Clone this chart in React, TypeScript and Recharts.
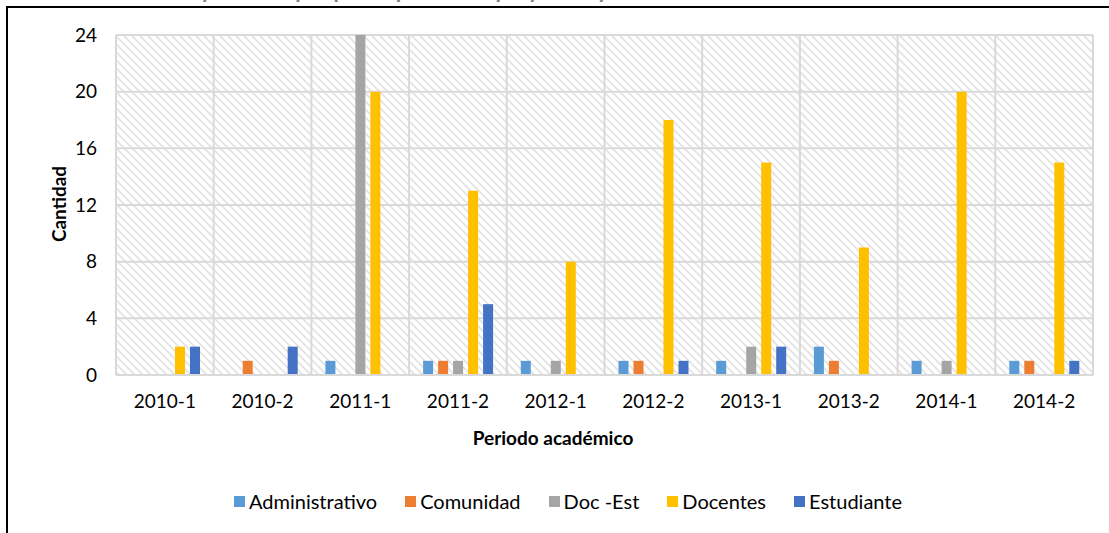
import { BarChart, Bar, XAxis, YAxis, CartesianGrid } from "recharts";

const periods = ["2010-1", "2010-2", "2011-1", "2011-2", "2012-1", "2012-2", "2013-1", "2013-2", "2014-1", "2014-2"];
const administrativo = [0, 0, 1, 1, 1, 1, 1, 2, 1, 1];
const comunidad = [0, 1, 0, 1, 0, 1, 0, 1, 0, 1];
const docEst = [0, 0, 24, 1, 1, 0, 2, 0, 1, 0];
const docentes = [2, 0, 20, 13, 8, 18, 15, 9, 20, 15];
const estudiante = [2, 2, 0, 5, 0, 1, 2, 0, 0, 1];
const yTicks = [0, 4, 8, 12, 16, 20, 24];

const series = [
  { key: "administrativo", name: "Administrativo", color: "#5B9BD5", values: administrativo },
  { key: "comunidad", name: "Comunidad", color: "#ED7D31", values: comunidad },
  { key: "docEst", name: "Doc -Est", color: "#A5A5A5", values: docEst },
  { key: "docentes", name: "Docentes", color: "#FFC000", values: docentes },
  { key: "estudiante", name: "Estudiante", color: "#4472C4", values: estudiante },
];

const data = periods.map((period, i) => {
  const row: Record<string, string | number> = { period };
  series.forEach((s) => {
    row[s.key] = s.values[i];
  });
  return row;
});

const font = "Lato, 'Open Sans', sans-serif";

// vertical grid lines sit on the category boundaries, not on the ticks
const boundaryLines = ({ offset }: any) => {
  const n = periods.length;
  return Array.from({ length: n + 1 }, (_, i) => offset.left + (i * offset.width) / n);
};

export default function App() {
  return (
    <div
      style={{
        position: "absolute",
        left: 0,
        top: 0,
        width: 1109,
        height: 533,
        overflow: "hidden",
        background: "#fff",
        fontFamily: font,
      }}
    >
      <svg width={0} height={0} style={{ position: "absolute" }}>
        <defs>
          <pattern id="hatch" patternUnits="userSpaceOnUse" width={8} height={8}>
            <rect width={8} height={8} fill="#fff" />
            <path d="M-2,6 L2,10 M0,0 L8,8 M6,-2 L10,2" stroke="#e2e2e2" strokeWidth={1.6} />
          </pattern>
        </defs>
      </svg>

      {/* title is clipped by the top edge, as in the original export */}
      <div
        style={{
          position: "absolute",
          top: -21,
          left: 0,
          width: 1109,
          textAlign: "center",
          fontSize: 22,
          lineHeight: "22px",
          fontWeight: 700,
          color: "#7f7f7f",
          whiteSpace: "nowrap",
        }}
      >
        Número de personas por participación en proyectos y resultados de extensión 2010-1 al 2014-2
      </div>

      <div
        style={{
          position: "absolute",
          left: 6,
          top: 6,
          width: 1120,
          height: 540,
          border: "2px solid #000",
          boxSizing: "border-box",
        }}
      />

      <div style={{ position: "absolute", left: 0, top: 0 }}>
        <BarChart
          width={1109}
          height={533}
          data={data}
          margin={{ top: 35, right: 16, left: 76, bottom: 128 }}
          barSize={10}
          barGap={5}
        >
          <CartesianGrid
            stroke="#d9d9d9"
            strokeWidth={2}
            fill="url(#hatch)"
            fillOpacity={1}
            verticalCoordinatesGenerator={boundaryLines}
          />
          <XAxis
            dataKey="period"
            height={30}
            tickLine={false}
            axisLine={{ stroke: "#d9d9d9", strokeWidth: 2 }}
            tickMargin={14}
            tick={{ fill: "#000", fontSize: 19, fontFamily: font }}
            interval={0}
          />
          <YAxis
            width={40}
            domain={[0, 24]}
            ticks={yTicks}
            tickLine={false}
            axisLine={false}
            tickMargin={13}
            tick={{ fill: "#000", fontSize: 19, fontFamily: font }}
          />
          {series.map((s) => (
            <Bar key={s.key} dataKey={s.key} name={s.name} fill={s.color} isAnimationActive={false} />
          ))}
        </BarChart>
      </div>

      <div
        style={{
          position: "absolute",
          left: 58,
          top: 204,
          transform: "translate(-50%, -50%) rotate(-90deg)",
          fontSize: 19,
          fontWeight: 700,
          color: "#000",
          whiteSpace: "nowrap",
        }}
      >
        Cantidad
      </div>

      <div
        style={{
          position: "absolute",
          left: 553,
          top: 437,
          transform: "translate(-50%, -50%)",
          fontSize: 19,
          fontWeight: 700,
          color: "#000",
          whiteSpace: "nowrap",
        }}
      >
        Periodo académico
      </div>

      <div
        style={{
          position: "absolute",
          left: 0,
          top: 489,
          width: 1136,
          display: "flex",
          justifyContent: "center",
          gap: 28,
          fontSize: 20,
          color: "#000",
        }}
      >
        {series.map((s) => (
          <div key={s.key} style={{ display: "flex", alignItems: "center", gap: 4 }}>
            <span style={{ display: "inline-block", width: 11, height: 11, background: s.color }} />
            <span>{s.name}</span>
          </div>
        ))}
      </div>
    </div>
  );
}
